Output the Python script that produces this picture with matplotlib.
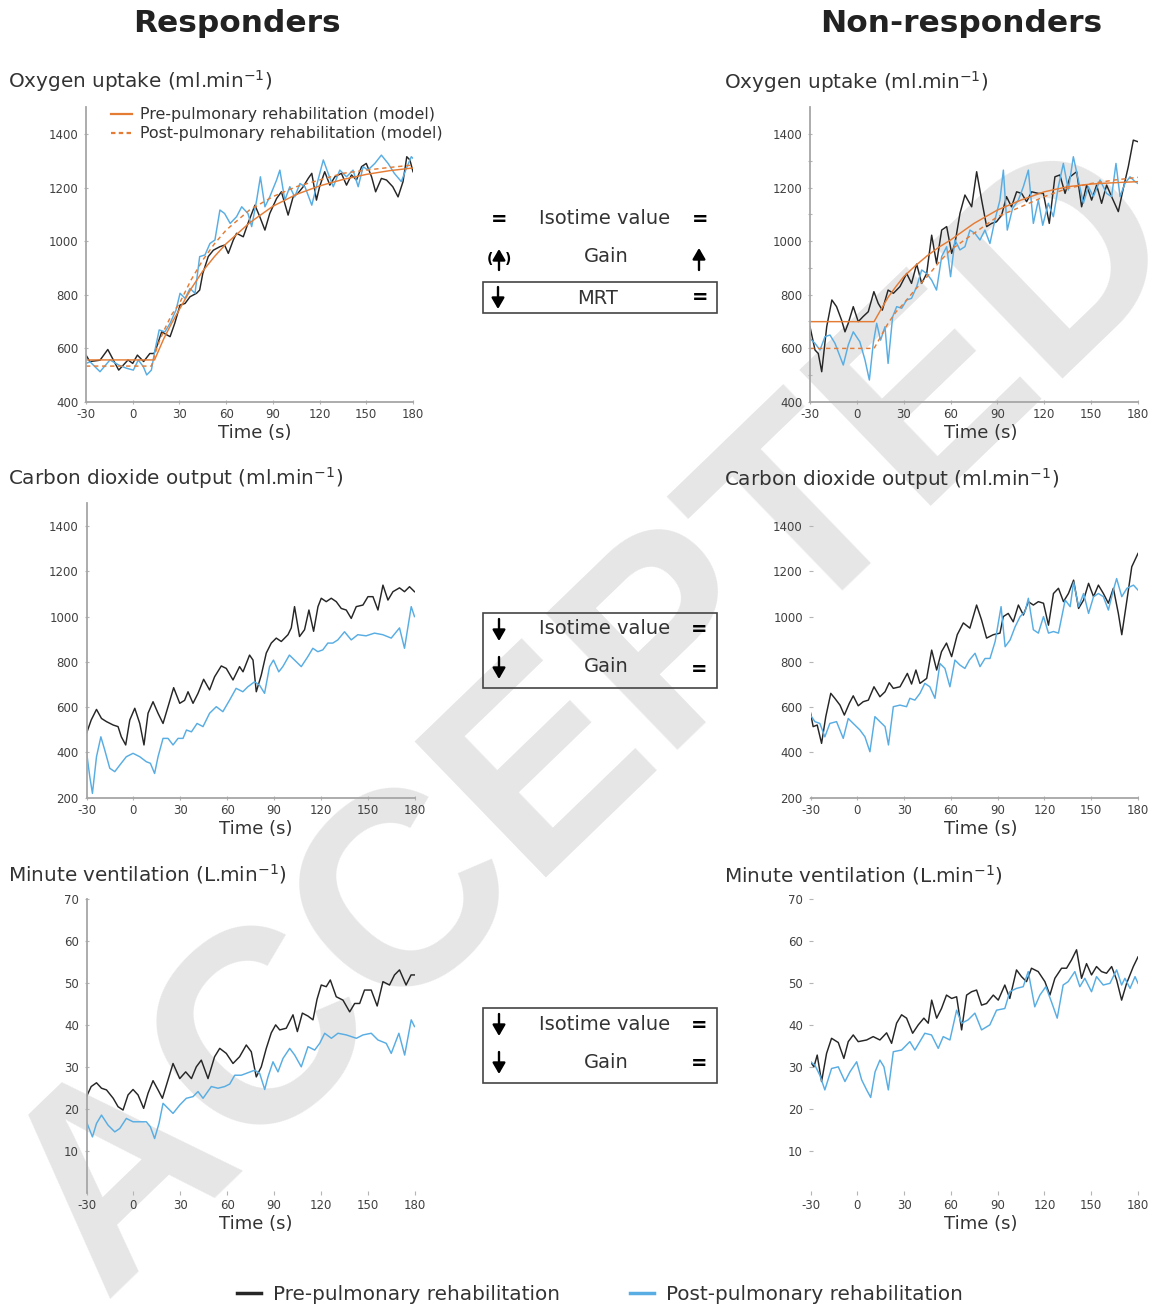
import matplotlib.pyplot as plt
from matplotlib.lines import Line2D
from matplotlib.patches import Rectangle

plt.rcParams['axes.unicode_minus'] = False

# ---------------- data: (time s, value) ----------------
# Responders - oxygen uptake (ml/min)
resp_vo2_pre = [(-30, 574), (-27.5, 550), (-21, 555), (-16, 595), (-9, 518), (-3, 556), (0, 543),
                (3, 574), (7, 550), (11, 580), (13.7, 580), (15.4, 605), (18.6, 661), (21.8, 650),
                (24, 643), (27, 693), (30.4, 761), (33.6, 767), (36.8, 792), (41, 805), (43, 817),
                (45, 879), (48.5, 942), (51.8, 966), (56, 979), (59, 985), (61.4, 954), (64.6, 1004),
                (66.7, 1029), (71, 1016), (74, 1066), (78.5, 1134), (81.6, 1091), (84.9, 1041),
                (88, 1103), (92.4, 1159), (95.5, 1184), (99.8, 1097), (103, 1165), (106, 1178),
                (109.5, 1203), (112.7, 1234), (115, 1253), (118, 1153), (120, 1203), (123.3, 1259),
                (126.6, 1209), (129.8, 1240), (134, 1253), (137.3, 1209), (140.5, 1247), (143.7, 1228),
                (147, 1278), (150, 1290), (153.4, 1240), (156, 1184), (159.7, 1234), (163, 1228),
                (167, 1203), (170.4, 1165), (173.6, 1222), (176, 1315), (178, 1303), (180, 1259)]
resp_vo2_post = [(-30, 543), (-27.4, 549), (-21, 512), (-14.6, 556), (-9, 537), (-4, 525), (0.4, 518),
                 (3.6, 556), (6.8, 531), (9, 500), (12, 518), (14.3, 593), (17, 668), (20.7, 661),
                 (24, 693), (27.8, 742), (30.4, 805), (33.6, 786), (36.8, 823), (40, 805), (43, 942),
                 (46.4, 948), (49.6, 991), (52.8, 1004), (56, 1116), (59, 1103), (62.6, 1066),
                 (66.7, 1091), (70, 1128), (74, 1103), (76.4, 1054), (79.6, 1153), (82, 1240),
                 (84.9, 1128), (88, 1165), (92.4, 1228), (94.5, 1265), (97.7, 1153), (100.9, 1203),
                 (104, 1165), (107.4, 1215), (110.6, 1203), (115, 1134), (119, 1228), (122.4, 1303),
                 (125.5, 1253), (128.8, 1203), (133, 1265), (137.3, 1240), (141.5, 1265), (144.8, 1203),
                 (148, 1278), (151, 1265), (155.5, 1290), (159.7, 1321), (164, 1290), (168, 1253),
                 (172.5, 1222), (175.7, 1271), (178.9, 1315), (180, 1309)]
resp_vo2_pre_model = [(-30, 556), (14, 556), (20, 636), (25, 693), (30, 745), (37.5, 822), (45, 888),
                      (52.5, 942), (60, 990), (75, 1068), (90, 1130), (105, 1174), (120, 1206),
                      (135, 1230), (150, 1249), (165, 1263), (180, 1273)]
resp_vo2_post_model = [(-30, 533), (12, 533), (16, 610), (20, 665), (25, 725), (30, 767), (37.5, 855),
                       (45, 929), (52.5, 990), (60, 1041), (75, 1116), (90, 1166), (105, 1203),
                       (120, 1228), (135, 1253), (150, 1265), (165, 1275), (180, 1284)]

# Non-responders - oxygen uptake (ml/min)
nonr_vo2_pre = [(-30, 680), (-26.8, 593), (-24.7, 580), (-22.5, 512), (-19.3, 680), (-16, 780),
                (-13, 755), (-9.8, 705), (-7.6, 661), (-5.5, 693), (-2.3, 755), (0.9, 699), (4, 718),
                (7.3, 736), (10.9, 811), (13.7, 767), (16.3, 742), (20, 817), (23.4, 805), (27.6, 830),
                (31.9, 879), (35, 842), (38.3, 914), (41.5, 842), (44.7, 879), (47.9, 1022), (51, 917),
                (54.3, 1041), (57.5, 1054), (60.7, 954), (62.8, 991), (66, 1103), (69.2, 1172),
                (73.5, 1128), (76.7, 1259), (79.9, 1153), (83.1, 1054), (86.3, 1066), (89.4, 1072),
                (92.7, 1097), (95.8, 1166), (99, 1128), (102.3, 1184), (105.5, 1178), (108.7, 1147),
                (111.9, 1184), (116.2, 1178), (119.4, 1178), (123.2, 1066), (126.8, 1240), (130, 1247),
                (133.3, 1178), (136.5, 1240), (140.7, 1259), (143.9, 1128), (147.1, 1209), (150.3, 1153),
                (153.5, 1209), (156.7, 1141), (159.9, 1209), (163.1, 1166), (167.4, 1110), (170.6, 1197),
                (173.8, 1278), (177, 1377), (180, 1371)]
nonr_vo2_post = [(-30, 636), (-26.8, 618), (-23.6, 593), (-20.4, 643), (-17.2, 649), (-14, 618),
                 (-8.7, 537), (-5.5, 612), (-2.3, 661), (1.9, 624), (5.2, 556), (8, 481), (10.5, 618),
                 (12.7, 693), (15.2, 630), (18, 680), (20, 543), (22.9, 717), (25.5, 755), (28.7, 749),
                 (31.9, 780), (35, 786), (38.3, 830), (41.5, 892), (44.7, 879), (47.9, 854), (51, 817),
                 (54.3, 942), (57.5, 979), (60, 867), (62.8, 1004), (66, 967), (69.2, 979), (72.4, 1041),
                 (75.6, 1029), (78.8, 1004), (82, 1041), (85.2, 991), (88.4, 1079), (91.6, 1153),
                 (93.8, 1265), (96.3, 1041), (99.7, 1122), (103.4, 1153), (106.6, 1203), (109.8, 1265),
                 (113, 1066), (116.2, 1153), (119, 1059), (122.6, 1141), (125.8, 1091), (129, 1203),
                 (132.2, 1290), (135.4, 1191), (138.6, 1315), (141.8, 1228), (145, 1141), (148.2, 1203),
                 (151.4, 1166), (155.7, 1228), (159.9, 1178), (163.1, 1166), (165.9, 1290), (168.5, 1166),
                 (171.6, 1215), (174.9, 1240), (178.1, 1222), (180, 1215)]
nonr_vo2_pre_model = [(-30, 699), (11, 699), (15, 740), (20, 790), (25, 830), (30, 867), (37.5, 908),
                      (45, 945), (52.5, 977), (60, 1004), (75, 1066), (90, 1116), (105, 1153),
                      (120, 1184), (135, 1203), (150, 1213), (165, 1218), (180, 1222)]
nonr_vo2_post_model = [(-30, 599), (11, 599), (15, 640), (20, 693), (25, 735), (30, 767), (37.5, 820),
                       (45, 867), (52.5, 920), (60, 967), (75, 1029), (90, 1091), (105, 1128),
                       (120, 1166), (135, 1197), (150, 1215), (165, 1228), (180, 1238)]

# Responders - carbon dioxide output (ml/min)
resp_vco2_pre = [(-30, 484), (-27, 543), (-23.6, 590), (-20.4, 550), (-17.2, 536), (-12.9, 521),
                 (-9.8, 514), (-7.7, 469), (-4.9, 433), (-2.3, 543), (0.9, 595), (4.1, 528), (6.8, 433),
                 (9.4, 573), (12.6, 624), (15.8, 573), (19, 528), (22.2, 602), (25.8, 686), (29.7, 617),
                 (32.8, 630), (35, 668), (38.2, 617), (41.4, 661), (45, 723), (48.8, 676), (52, 734),
                 (56.3, 782), (59.5, 771), (63.8, 720), (68, 779), (70.2, 756), (74.4, 830), (76.6, 808),
                 (78.7, 668), (81.9, 742), (85.1, 839), (88.3, 883), (91.5, 905), (94.7, 890), (99, 920),
                 (101.1, 950), (103.2, 1044), (106.4, 912), (109.6, 942), (112.4, 1029), (115.4, 935),
                 (118.2, 1044), (120.3, 1081), (123.5, 1066), (126.7, 1081), (129.9, 1066), (133.1, 1036),
                 (136.3, 1029), (139.5, 992), (142.7, 1044), (147, 1051), (150.2, 1088), (153.4, 1088),
                 (156.6, 1029), (159.8, 1139), (163, 1073), (166.2, 1110), (170.4, 1127), (173.6, 1110),
                 (176.8, 1132), (180, 1110)]
resp_vco2_post = [(-30, 403), (-27.9, 293), (-26.2, 219), (-23.6, 381), (-20.8, 469), (-18.3, 410),
                  (-15.1, 330), (-11.9, 315), (-8.7, 344), (-4.5, 381), (-0.2, 396), (4.1, 381),
                  (8.3, 359), (10.9, 352), (13.6, 307), (15.8, 381), (19, 462), (22.2, 462), (25.4, 433),
                  (28.6, 462), (31.8, 462), (34, 499), (37.2, 491), (40.8, 528), (44.6, 514), (48.8, 573),
                  (53.1, 602), (57.3, 580), (61.6, 631), (65.8, 683), (70.1, 668), (73.3, 690),
                  (77.6, 712), (80.8, 697), (84, 661), (87.2, 779), (89.7, 808), (93.1, 756), (95.7, 779),
                  (99.9, 830), (103.2, 808), (107.5, 779), (111.7, 823), (114.9, 860), (118.1, 845),
                  (121.3, 853), (124.5, 883), (127.7, 883), (130.9, 897), (135.2, 933), (139.5, 897),
                  (143.7, 920), (149, 915), (154.4, 927), (159.7, 920), (165.1, 905), (170.4, 950),
                  (173.6, 860), (177.9, 1044), (180, 1000)]

# Non-responders - carbon dioxide output (ml/min)
nonr_vco2_pre = [(-30, 575), (-28.3, 514), (-25.7, 521), (-22.9, 440), (-20.2, 558), (-17, 661),
                 (-14.4, 639), (-11.1, 609), (-8.3, 565), (-5.1, 617), (-2.6, 650), (0.6, 606),
                 (3.8, 624), (7.1, 631), (10.7, 690), (14.5, 646), (17.8, 668), (20.5, 708), (23.1, 683),
                 (27.4, 690), (32.1, 749), (34.8, 702), (37.6, 764), (40.2, 705), (44.5, 727), (47.7, 852),
                 (50.9, 764), (54, 845), (57.2, 883), (60.5, 823), (64.1, 920), (68, 972), (72.2, 949),
                 (76.5, 1051), (79.7, 985), (82.9, 905), (87.2, 920), (91.5, 927), (93.6, 1000),
                 (96.8, 1014), (100, 977), (103.3, 1051), (106.5, 1007), (109.7, 1066), (112.9, 1051),
                 (116.1, 1066), (119.4, 1059), (122.6, 962), (125.8, 1102), (129, 1125), (132.2, 1066),
                 (135.4, 1102), (138.7, 1161), (141.9, 1036), (145.1, 1073), (148.3, 1147), (151.5, 1088),
                 (154.6, 1139), (157.8, 1102), (161, 1059), (164.2, 1125), (167.4, 1014), (169.6, 920),
                 (172.9, 1073), (176, 1220), (180, 1279)]
nonr_vco2_post = [(-30, 565), (-27.2, 536), (-24, 528), (-20.8, 469), (-17.6, 528), (-13.3, 536),
                  (-9, 462), (-5.8, 550), (-2.6, 528), (1.7, 499), (4.9, 469), (8.1, 403), (11.3, 558),
                  (14.5, 536), (17.8, 514), (20, 433), (23.1, 602), (27.4, 609), (31.6, 602), (33.7, 639),
                  (36.9, 631), (40.2, 661), (43.3, 705), (46.5, 690), (49.8, 639), (53, 793), (56.2, 771),
                  (59.4, 690), (62.6, 808), (65.8, 786), (69, 771), (71.9, 808), (75.5, 838), (78.7, 779),
                  (81.9, 815), (85.1, 815), (88.4, 890), (92.2, 1044), (94.8, 867), (98, 897),
                  (101.2, 955), (104.4, 1000), (107.6, 1022), (109.7, 1081), (112.9, 942), (116.1, 927),
                  (119.4, 1000), (122.6, 927), (125.8, 934), (129, 927), (133.3, 1073), (136.5, 1044),
                  (138.7, 1152), (141.9, 1044), (145.1, 1102), (148.3, 1014), (151.5, 1088), (154.6, 1102),
                  (157.8, 1088), (161, 1029), (164.2, 1117), (166.3, 1168), (169.6, 1088), (172.9, 1125),
                  (177.1, 1139), (180, 1117)]

# Responders - minute ventilation (L/min)
resp_ve_pre = [(-30, 22.9), (-27, 25.3), (-23.6, 26.2), (-20.4, 24.9), (-17.2, 24.5), (-12.9, 22.5),
               (-9.8, 20.5), (-6.6, 19.7), (-3.4, 23.3), (-0.2, 24.6), (3, 23.3), (6.6, 20.1), (9.4, 23.7),
               (12.6, 26.7), (15.8, 24.5), (18.6, 22.5), (22.2, 26.9), (25.4, 30.8), (29.7, 27.2),
               (33.5, 28.8), (37.2, 27.2), (40.3, 30), (43.5, 31.6), (47.8, 27.2), (52, 32.4),
               (55.3, 34.4), (59.5, 33.2), (63.8, 30.8), (68, 32.4), (72.3, 35.2), (75.5, 33.6),
               (78.7, 27.6), (81.9, 30), (85.1, 34.4), (88.3, 38.1), (91.1, 40), (93.7, 38.8),
               (97.9, 39.2), (102.2, 42.4), (105, 38.4), (108.2, 42.8), (111.8, 42.1), (115, 41.2),
               (117.6, 46.1), (120.3, 49.5), (123.5, 49.1), (126.1, 50.7), (129.9, 46.7), (134.2, 45.9),
               (138.5, 43.1), (141.7, 45.1), (144.9, 45.1), (148, 48.3), (152.3, 48.3), (156.1, 44.5),
               (159.8, 50.3), (164, 49.5), (167.2, 51.9), (170.4, 53.1), (174.6, 49.5), (177.8, 51.9),
               (180, 51.9)]
resp_ve_post = [(-30, 16.9), (-26.2, 13.3), (-23.6, 16.5), (-20.4, 18.5), (-16.2, 16.1), (-11.9, 14.5),
                (-8.7, 15.3), (-4.5, 17.7), (-0.2, 16.9), (4.1, 16.9), (8.3, 16.9), (10.9, 15.7),
                (13.6, 12.9), (16.4, 16.5), (19, 21.3), (22.2, 20.1), (25.4, 18.9), (29.7, 20.9),
                (33.9, 22.5), (38.2, 22.9), (41.4, 24.1), (44.6, 22.5), (49.9, 25.3), (54.2, 24.9),
                (58.5, 25.3), (61.7, 25.9), (64.9, 28), (69.1, 28), (73.4, 28.6), (77.7, 29.2),
                (80.9, 28.4), (84.1, 24.6), (86.2, 27.6), (89.4, 31.2), (92.6, 28.8), (95.8, 32),
                (100.1, 34.4), (103.3, 32.8), (107.5, 30), (111.8, 34.8), (116.1, 34), (119.3, 35.6),
                (122.5, 38), (126.8, 36.8), (131, 38), (136.4, 37.6), (142.8, 36.8), (147, 37.6),
                (152.3, 38), (156.6, 36.4), (161.9, 35.6), (165.1, 33.2), (170, 38), (173.7, 32.8),
                (177.9, 41.2), (180, 39.6)]

# Non-responders - minute ventilation (L/min)
nonr_ve_pre = [(-30, 31.2), (-27.8, 30), (-25.7, 32.8), (-22.9, 26.5), (-19.7, 33.2), (-16.5, 36.8),
               (-12.2, 35.8), (-8.6, 32), (-5.8, 36), (-2.6, 37.6), (0.6, 36), (6, 36.4), (10.2, 37.2),
               (14.5, 36.4), (18.8, 38.1), (22, 35.6), (25.2, 40.4), (28.4, 42.4), (31.6, 41.6),
               (35.5, 38), (39.1, 40), (42.7, 41.6), (45.5, 40.4), (47.7, 45.9), (50.9, 41.6), (54, 43.9),
               (57.2, 47.1), (60.5, 46.3), (63.7, 46.7), (66.9, 38.8), (70.1, 47.1), (73.3, 47.9),
               (76.5, 48.3), (79.7, 44.7), (82.9, 45.1), (87.2, 47.1), (90.4, 45.9), (94.6, 49.5),
               (97.8, 46.3), (102.1, 53.1), (105.3, 51.5), (108.5, 50.3), (111.7, 53.5), (116, 52.7),
               (120.3, 50.3), (123.5, 47.1), (126.7, 51.1), (131, 53.5), (134.2, 53.5), (137.4, 55.5),
               (140.6, 57.9), (143.8, 51.1), (147, 54.6), (150.2, 51.9), (153.4, 53.9), (156.6, 52.7),
               (159.8, 52.3), (163.1, 53.9), (166.3, 50.7), (169.5, 45.9), (172.7, 49.9), (177, 53.9),
               (180, 56.2)]
nonr_ve_post = [(-30, 31.2), (-27.2, 30.4), (-24, 28), (-20.8, 24.5), (-16.5, 29.6), (-12.2, 30),
                (-7.9, 26.5), (-4.7, 28.8), (-0.4, 31.2), (2.8, 26.9), (6, 24.5), (8.6, 22.7), (11.4, 28.8),
                (14.5, 31.6), (17.1, 30), (19.9, 24.5), (23.1, 33.6), (28.4, 34), (33.7, 36), (36.9, 34),
                (40.1, 36), (43.3, 38), (47.6, 37.6), (51.9, 34.4), (55.1, 37.2), (59.4, 36.4), (63.7, 43.5),
                (66.9, 40.4), (71.1, 41.2), (75.4, 42.8), (79.7, 38.8), (85, 40), (89.3, 43.5), (94.6, 43.9),
                (97.8, 47.9), (102.1, 48.7), (106.4, 49.1), (109.6, 52.7), (113.8, 44.3), (117.1, 47.1),
                (120.9, 49.1), (124.5, 45.5), (128.2, 41.6), (132, 49.5), (135.2, 50.3), (139.5, 52.7),
                (142.7, 49.1), (145.9, 51.1), (150.2, 47.9), (153.4, 51.5), (157.7, 49.5), (162, 49.9),
                (166.3, 53.1), (169.5, 49.5), (171.6, 51.1), (174.9, 48.7), (178.1, 51.5), (180, 49.9)]

x_ticks = [-30, 0, 30, 60, 90, 120, 150, 180]
gas_ticks_vo2 = [400, 600, 800, 1000, 1200, 1400]
gas_ticks_vco2 = [200, 400, 600, 800, 1000, 1200, 1400]
ve_ticks = [10, 20, 30, 40, 50, 60, 70]

# ---------------- styling ----------------
W, H = 1157, 1309
PRE = '#262626'
POST = '#58ade3'
MODEL = '#e57c35'
TXT = '#333333'

fig = plt.figure(figsize=(W / 100, H / 100), dpi=100)


def px_box(x0, x1, ybot, ytop):
    # pixel box -> figure fraction rect
    return [x0 / W, 1 - ybot / H, (x1 - x0) / W, (ybot - ytop) / H]


def make_ax(rect, ylim, yticks, left_spine, bottom_spine):
    ax = fig.add_axes(rect)
    ax.patch.set_alpha(0)
    ax.set_xlim(-30, 180)
    ax.set_ylim(*ylim)
    ax.set_xticks(x_ticks)
    ax.set_yticks(yticks)
    for s in ['top', 'right']:
        ax.spines[s].set_visible(False)
    ax.spines['left'].set_visible(left_spine)
    ax.spines['bottom'].set_visible(bottom_spine)
    for s in ['left', 'bottom']:
        ax.spines[s].set_color('#a6a6a6')
        ax.spines[s].set_linewidth(1.3)
    ax.tick_params(length=3, width=0.8, color='#b5b5b5', direction='inout',
                   labelsize=8.5, labelcolor='#404040')
    ax.tick_params(axis='x', pad=3)
    ax.tick_params(axis='y', pad=4)
    return ax


def series(ax, pts, color, ls='-', lw=1.05):
    t = [p[0] for p in pts]
    v = [p[1] for p in pts]
    ax.plot(t, v, color=color, ls=ls, lw=lw, solid_joinstyle='round')


def xlabel(ax, xfrac):
    ax.set_xlabel('Time (s)', fontsize=13, color=TXT)
    ax.xaxis.set_label_coords(xfrac, -0.075)


# top row - oxygen uptake
ax1 = make_ax(px_box(86, 413, 401.7, 107.2), (400, 1500), gas_ticks_vo2, True, True)
series(ax1, resp_vo2_pre, PRE)
series(ax1, resp_vo2_post, POST)
series(ax1, resp_vo2_pre_model, MODEL)
series(ax1, resp_vo2_post_model, MODEL, ls=(0, (3, 2.5)))
xlabel(ax1, 0.515)
leg_h = [Line2D([], [], color=MODEL, lw=1.6),
         Line2D([], [], color=MODEL, lw=1.6, ls=(0, (2, 1.5)))]
ax1.legend(leg_h, ['Pre-pulmonary rehabilitation (model)', 'Post-pulmonary rehabilitation (model)'],
           loc='upper left', bbox_to_anchor=(0.075, 1.0), frameon=False, fontsize=11.4,
           handlelength=1.35, handletextpad=0.5, labelspacing=0.25, borderpad=0,
           borderaxespad=0, labelcolor=TXT)

ax2 = make_ax(px_box(810, 1138, 401.7, 107.2), (400, 1500), gas_ticks_vo2, True, True)
ax2.set_yticks([500, 700, 900, 1100, 1300], minor=True)
ax2.tick_params(axis='y', which='minor', length=3, width=0.8, color='#b5b5b5', direction='inout')
series(ax2, nonr_vo2_pre, PRE)
series(ax2, nonr_vo2_post, POST)
series(ax2, nonr_vo2_pre_model, MODEL)
series(ax2, nonr_vo2_post_model, MODEL, ls=(0, (3, 2.5)))
xlabel(ax2, 0.52)

# middle row - carbon dioxide output
ax3 = make_ax(px_box(86.5, 414.5, 797.7, 503.4), (200, 1500), gas_ticks_vco2, True, True)
series(ax3, resp_vco2_pre, PRE)
series(ax3, resp_vco2_post, POST)
xlabel(ax3, 0.515)

ax4 = make_ax(px_box(810.5, 1138, 797.7, 503.4), (200, 1500), gas_ticks_vco2, False, True)
series(ax4, nonr_vco2_pre, PRE)
series(ax4, nonr_vco2_post, POST)
xlabel(ax4, 0.52)

# bottom row - minute ventilation
ax5 = make_ax(px_box(86.5, 414.5, 1192.7, 899), (0, 70), ve_ticks, True, False)
series(ax5, resp_ve_pre, PRE)
series(ax5, resp_ve_post, POST)
xlabel(ax5, 0.515)

ax6 = make_ax(px_box(810.5, 1138, 1192.7, 899), (0, 70), ve_ticks, False, False)
series(ax6, nonr_ve_pre, PRE)
series(ax6, nonr_ve_post, POST)
xlabel(ax6, 0.52)

# panel titles
titles = [r'Oxygen uptake (ml.min$^{\mathregular{-1}}$)',
          r'Carbon dioxide output (ml.min$^{\mathregular{-1}}$)',
          r'Minute ventilation (L.min$^{\mathregular{-1}}$)']
for title, yb in zip(titles, [88, 485, 881]):
    fig.text(8 / W, 1 - yb / H, title, fontsize=14.4, color=TXT, va='baseline')
    fig.text(724 / W, 1 - (yb + 1) / H, title, fontsize=14.4, color=TXT, va='baseline')

fig.text(237 / W, 1 - 24 / H, 'Responders', fontsize=22.5, weight='bold', color='#222222',
         ha='center', va='center')
fig.text(961 / W, 1 - 24 / H, 'Non-responders', fontsize=22.5, weight='bold', color='#222222',
         ha='center', va='center')

# watermark behind everything
fig.text(598 / W, 1 - 722 / H, 'ACCEPTED', rotation=44, rotation_mode='anchor',
         fontsize=198, family='Liberation Sans', weight='bold', color='#e6e6e6',
         ha='center', va='center', zorder=-10)

# overlay in pixel coordinates for the summary boxes
ov = fig.add_axes([0, 0, 1, 1], zorder=5)
ov.set_xlim(0, W)
ov.set_ylim(H, 0)
ov.axis('off')
ov.patch.set_alpha(0)


def arrow(x, y_tail, y_head):
    ov.annotate('', xy=(x, y_head), xytext=(x, y_tail),
                arrowprops=dict(arrowstyle='-|>,head_length=0.55,head_width=0.32', lw=1.7,
                                color='black', shrinkA=0, shrinkB=0, mutation_scale=12))


def eq(x, y):
    ov.text(x, y, '=', fontsize=14, weight='bold', color='black', ha='center', va='center')


def label(x, y, s):
    ov.text(x, y, s, fontsize=14, color=TXT, ha='center', va='center')


# oxygen uptake summary
eq(499, 219); label(605, 218, 'Isotime value'); eq(700, 219)
ov.text(490, 259, '(', fontsize=10, weight='bold', ha='center', va='center')
ov.text(508, 259, ')', fontsize=10, weight='bold', ha='center', va='center')
arrow(499, 270, 249)
label(606, 256, 'Gain')
arrow(699, 270, 248)
ov.add_patch(Rectangle((483, 282), 234, 31, fill=False, ec='#444444', lw=1.2))
arrow(498, 287, 309)
label(598, 298, 'MRT')
eq(700, 298)

# carbon dioxide summary
ov.add_patch(Rectangle((483, 613), 234, 75, fill=False, ec='#444444', lw=1.2))
arrow(499, 619, 641); label(605, 629, 'Isotime value'); eq(699, 630)
arrow(499, 657, 679); label(606, 667, 'Gain'); eq(699, 669)

# minute ventilation summary
ov.add_patch(Rectangle((483, 1008), 234, 75, fill=False, ec='#444444', lw=1.2))
arrow(499, 1014, 1036); label(605, 1024, 'Isotime value'); eq(699, 1025)
arrow(499, 1052, 1074); label(606, 1062, 'Gain'); eq(699, 1064)

# shared legend at the bottom
fig.legend([Line2D([], [], color=PRE, lw=2.5), Line2D([], [], color=POST, lw=2.5)],
           ['Pre-pulmonary rehabilitation', 'Post-pulmonary rehabilitation'],
           loc='center', bbox_to_anchor=(600 / W, 1 - 1294 / H), ncol=2, frameon=False,
           fontsize=14.4, handlelength=1.2, handletextpad=0.6, columnspacing=3.5,
           labelcolor=TXT)

fig.savefig('out.png', dpi=100)
